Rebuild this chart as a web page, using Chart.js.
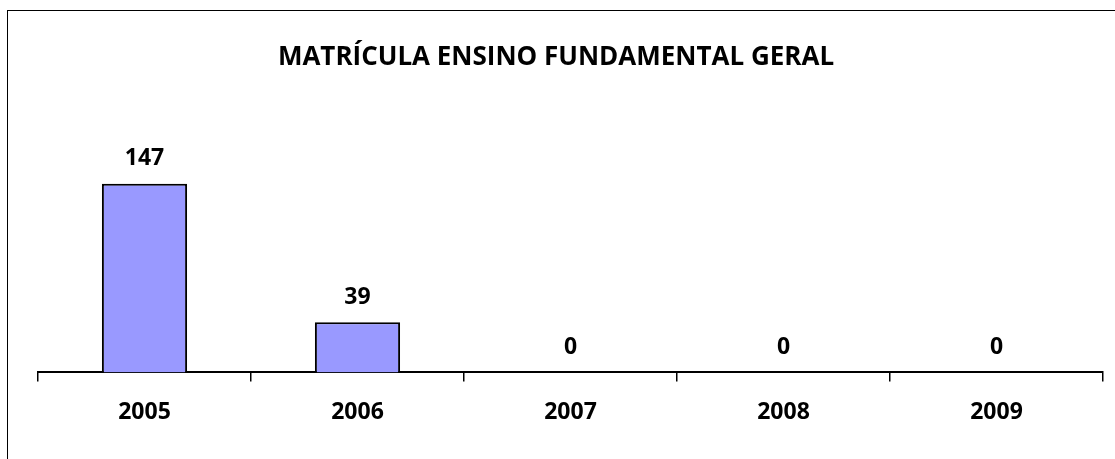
<!DOCTYPE html>
<html>
<head>
<meta charset="utf-8">
<script src="https://cdn.jsdelivr.net/npm/chart.js@4"></script>
<style>
  html, body { margin: 0; padding: 0; background: #fff; }
  #wrap { position: relative; width: 1115px; height: 459px; overflow: hidden; }
  #frame { position: absolute; left: 7px; top: 10px; width: 1200px; height: 600px; border-left: 1.5px solid #000; border-top: 1.5px solid #000; }
  canvas { position: absolute; left: 0; top: 0; }
</style>
</head>
<body>
<div id="wrap">
  <div id="frame"></div>
  <canvas id="myChart" width="1115" height="459"></canvas>
</div>
<script>
var anos = ['2005', '2006', '2007', '2008', '2009'];
var matriculas = [147, 39, 0, 0, 0];
var titulo = 'MATRÍCULA ENSINO FUNDAMENTAL GERAL';

var fonte = '"Open Sans", Lato, sans-serif';

// title (centred on the frame, not on the plot) and values above the bars
var rotulos = {
    id: 'rotulos',
    afterDraw: function (chart) {
        var ctx = chart.ctx;
        ctx.save();
        ctx.fillStyle = '#000';
        ctx.textAlign = 'center';
        ctx.textBaseline = 'middle';
        ctx.font = 'bold 26px ' + fonte;
        ctx.fillText(titulo, 556, 58);
        ctx.restore();
    },
    afterDatasetsDraw: function (chart) {
        var ctx = chart.ctx;
        var meta = chart.getDatasetMeta(0);
        ctx.save();
        ctx.font = 'bold 23px ' + fonte;
        ctx.fillStyle = '#000';
        ctx.textAlign = 'center';
        ctx.textBaseline = 'middle';
        meta.data.forEach(function (bar, i) {
            ctx.fillText(String(matriculas[i]), bar.x, bar.y - 25);
        });
        ctx.restore();
    }
};

var ctx = document.getElementById('myChart').getContext('2d');
var chart = new Chart(ctx, {
    type: 'bar',
    data: {
        labels: anos,
        datasets: [{
            data: matriculas,
            backgroundColor: '#9999ff',
            borderColor: '#000',
            borderWidth: 2,
            barPercentage: 0.4,
            categoryPercentage: 1
        }]
    },
    options: {
        responsive: false,
        animation: false,
        layout: {
            padding: { left: 38, right: 12, top: 167, bottom: 16 }
        },
        plugins: {
            legend: { display: false },
            tooltip: { enabled: false },
            title: { display: false }
        },
        scales: {
            x: {
                grid: {
                    drawOnChartArea: false,
                    drawTicks: true,
                    tickLength: 9,
                    color: '#000',
                    lineWidth: 1.5
                },
                border: { display: true, color: '#000', width: 2 },
                ticks: {
                    color: '#000',
                    padding: 17,
                    font: { family: fonte, size: 23, weight: 'bold' }
                }
            },
            y: {
                display: false,
                min: 0,
                max: 160
            }
        }
    },
    plugins: [rotulos]
});
</script>
</body>
</html>
